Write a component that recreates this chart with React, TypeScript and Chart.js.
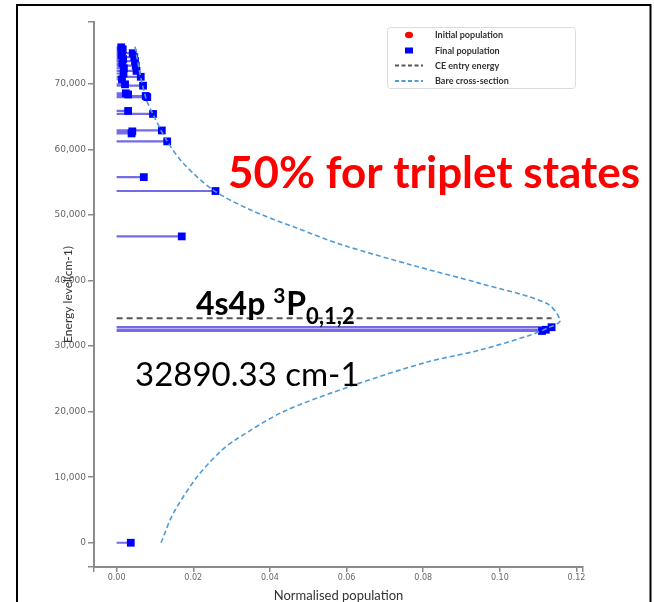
import React, { useEffect, useRef } from "react";
import { Chart, registerables } from "chart.js";

Chart.register(...registerables);

// Final-state energy levels (cm-1) and their normalised populations
const LEVEL_ENERGY = [
  0, 32311, 32501, 32890, 46745, 53672, 55789, 61247, 62459, 62772, 62910,
  65432, 65890, 68000, 68170, 68400, 68580, 69740, 69950, 70700, 71100,
  71600, 72000, 72400, 72800, 73100, 73500, 73800, 74100, 74400, 74700,
  75000, 75300, 75600,
];
const LEVEL_POPULATION = [
  0.0037, 0.111, 0.112, 0.1135, 0.017, 0.0258, 0.0071, 0.0132, 0.0039, 0.0041,
  0.0118, 0.0095, 0.003, 0.008, 0.0076, 0.003, 0.0024, 0.0069, 0.0022, 0.0014,
  0.0063, 0.0018, 0.0052, 0.0019, 0.005, 0.0015, 0.0048, 0.0017, 0.0046,
  0.0013, 0.0042, 0.0014, 0.0016, 0.0012,
];

// Initial population lies outside the plotted window
const INITIAL_ENERGY: number[] = [];
const INITIAL_POPULATION: number[] = [];

// Charge-exchange entry energy
const CE_ENTRY_ENERGY = 34240;
const CE_LINE_POPULATION = [0, 0.1135];

// Bare cross-section profile
const CROSS_ENERGY = [
  0, 4490, 9980, 13890, 15700, 20000, 24070, 27570, 29400, 31690, 32760,
  33880, 36530, 39580, 42380, 45430, 48020, 50770, 53820, 57900, 61450,
  65370, 67560, 71000, 75700,
];
const CROSS_POPULATION = [
  0.0116, 0.0148, 0.0209, 0.027, 0.031, 0.0435, 0.062, 0.081, 0.0948, 0.108,
  0.1125, 0.1157, 0.1122, 0.0948, 0.077, 0.059, 0.047, 0.035, 0.0252, 0.0174,
  0.013, 0.0095, 0.0078, 0.0063, 0.0048,
];

const X_TICKS = [0, 0.02, 0.04, 0.06, 0.08, 0.1, 0.12];
const Y_TICKS = [0, 10000, 20000, 30000, 40000, 50000, 60000, 70000];
const X_RANGE = [-0.0059, 0.1217];
const Y_RANGE = [-3700, 79460];

const LEGEND_LABELS = [
  "Initial population",
  "Final population",
  "CE entry energy",
  "Bare cross-section",
];

const AXIS_GREY = "#8a8a8a";

function stemPoints() {
  const pts: { x: number | null; y: number | null }[] = [];
  LEVEL_ENERGY.forEach((e, i) => {
    pts.push({ x: 0, y: e });
    pts.push({ x: LEVEL_POPULATION[i], y: e });
    pts.push({ x: null, y: null });
  });
  return pts;
}

const overlayPlugin = {
  id: "overlay",
  afterDraw(chart: any) {
    const { ctx, chartArea } = chart;
    ctx.save();

    // axis titles
    ctx.fillStyle = "#333";
    ctx.textAlign = "center";
    ctx.textBaseline = "middle";
    ctx.font = "13px Lato";
    ctx.fillText("Normalised population", (chartArea.left + chartArea.right) / 2, 596);
    ctx.save();
    ctx.translate(chartArea.left - 26, (chartArea.top + chartArea.bottom) / 2);
    ctx.rotate(-Math.PI / 2);
    ctx.font = "12px Lato";
    ctx.fillText("Energy level(cm-1)", 0, 0);
    ctx.restore();

    // legend
    const lx = 387, ly = 27, lw = 188, lh = 61;
    ctx.fillStyle = "#fff";
    ctx.strokeStyle = "#dcdcdc";
    ctx.lineWidth = 1;
    ctx.beginPath();
    ctx.roundRect(lx + 0.5, ly + 0.5, lw, lh, 3);
    ctx.fill();
    ctx.stroke();
    const rowY = [35, 50.5, 65.5, 81];
    LEGEND_LABELS.forEach((label, i) => {
      const ds = chart.data.datasets.find((d: any) => d.label === label);
      const cy = rowY[i];
      const cx = 409;
      ctx.save();
      if (ds.showLine) {
        ctx.strokeStyle = ds.borderColor;
        ctx.lineWidth = 2;
        ctx.setLineDash([4, 2.5]);
        ctx.beginPath();
        ctx.moveTo(395, cy);
        ctx.lineTo(423, cy);
        ctx.stroke();
      } else {
        ctx.fillStyle = ds.backgroundColor;
        ctx.beginPath();
        if (ds.pointStyle === "rect") {
          ctx.rect(cx - 4, cy - 3, 8, 6);
        } else {
          ctx.ellipse(cx, cy, 4, 3.3, 0, 0, Math.PI * 2);
        }
        ctx.fill();
      }
      ctx.restore();
      ctx.fillStyle = "#333";
      ctx.textAlign = "left";
      ctx.textBaseline = "middle";
      ctx.font = "bold 9px Lato";
      ctx.fillText(label, 435, cy + 0.5);
    });

    // annotations
    ctx.textAlign = "left";
    ctx.textBaseline = "alphabetic";
    ctx.fillStyle = "#ff0000";
    ctx.font = "bold 44px Lato";
    ctx.fillText("50% for triplet states", 228, 188, 412);

    ctx.fillStyle = "#000";
    let tx = 196;
    const base = 315;
    ctx.font = "bold 32px Lato";
    ctx.fillText("4s4p", tx, base);
    tx += ctx.measureText("4s4p ").width;
    ctx.font = "bold 21px Lato";
    ctx.fillText("3", tx, base - 12);
    tx += ctx.measureText("3").width + 1;
    ctx.font = "bold 32px Lato";
    ctx.fillText("P", tx, base);
    tx += ctx.measureText("P").width;
    ctx.font = "bold 22px Lato";
    ctx.fillText("0,1,2", tx, base + 9);

    ctx.font = "33px Lato";
    ctx.fillText("32890.33 cm-1", 135, 386, 228);

    // frame
    ctx.strokeStyle = "#000";
    ctx.lineWidth = 2;
    ctx.beginPath();
    ctx.moveTo(17, 620);
    ctx.lineTo(17, 5);
    ctx.lineTo(650.5, 5);
    ctx.lineTo(650.5, 620);
    ctx.stroke();
    ctx.restore();
  },
};

export default function App() {
  const canvasRef = useRef<HTMLCanvasElement | null>(null);

  useEffect(() => {
    if (!canvasRef.current) return;
    const chart = new Chart(canvasRef.current, {
      type: "scatter",
      data: {
        datasets: [
          {
            label: "Bare cross-section",
            data: CROSS_ENERGY.map((e, i) => ({ x: CROSS_POPULATION[i], y: e })),
            showLine: true,
            borderColor: "#4f9bd6",
            backgroundColor: "#4f9bd6",
            borderWidth: 1.6,
            borderDash: [5, 3],
            pointRadius: 0,
            tension: 0.3,
            order: 1,
          },
          {
            label: "CE entry energy",
            data: CE_LINE_POPULATION.map((p) => ({ x: p, y: CE_ENTRY_ENERGY })),
            showLine: true,
            borderColor: "#555555",
            backgroundColor: "#555555",
            borderWidth: 2,
            borderDash: [6, 4],
            pointRadius: 0,
            order: 2,
          },
          {
            label: "Initial population",
            data: INITIAL_ENERGY.map((e, i) => ({ x: INITIAL_POPULATION[i], y: e })),
            backgroundColor: "#ff0000",
            borderColor: "#ff0000",
            pointStyle: "circle",
            pointRadius: 4,
            order: 3,
          },
          {
            label: "Final population",
            data: LEVEL_ENERGY.map((e, i) => ({ x: LEVEL_POPULATION[i], y: e })),
            backgroundColor: "#0000ff",
            borderColor: "#0000ff",
            borderWidth: 0,
            pointStyle: "rect",
            pointRadius: 5.5,
            order: 4,
          },
          {
            label: "levels",
            data: stemPoints() as any,
            showLine: true,
            spanGaps: false,
            borderColor: "rgba(80, 70, 225, 0.8)",
            backgroundColor: "rgba(80, 70, 225, 0.8)",
            borderWidth: 2.2,
            pointRadius: 0,
            order: 5,
          },
        ],
      },
      options: {
        animation: false,
        responsive: false,
        devicePixelRatio: 1,
        layout: { padding: { left: 17, top: 22, right: 71, bottom: 0 } },
        plugins: {
          legend: { display: false },
          tooltip: { enabled: false },
        },
        scales: {
          x: {
            type: "linear",
            min: X_RANGE[0],
            max: X_RANGE[1],
            afterBuildTicks: (s: any) => {
              s.ticks = [X_RANGE[0], ...X_TICKS, X_RANGE[1]].map((v) => ({ value: v }));
            },
            afterFit: (s: any) => {
              s.height = 35;
            },
            ticks: {
              autoSkip: false,
              maxRotation: 0,
              padding: 1,
              color: "#666",
              font: { family: "DejaVu Sans", size: 8 },
              callback: (v: any, i: number, arr: any[]) =>
                i === 0 || i === arr.length - 1 ? "" : Number(v).toFixed(2),
            },
            grid: {
              drawOnChartArea: false,
              drawTicks: true,
              tickLength: 5,
              color: AXIS_GREY,
              lineWidth: 1.5,
            },
            border: { display: true, color: AXIS_GREY, width: 2 },
          },
          y: {
            type: "linear",
            min: Y_RANGE[0],
            max: Y_RANGE[1],
            afterBuildTicks: (s: any) => {
              s.ticks = [Y_RANGE[0], ...Y_TICKS, Y_RANGE[1]].map((v) => ({ value: v }));
            },
            afterFit: (s: any) => {
              s.width = 77;
            },
            ticks: {
              autoSkip: false,
              padding: 2,
              color: "#666",
              font: { family: "DejaVu Sans", size: 9 },
              callback: (v: any, i: number, arr: any[]) =>
                i === 0 || i === arr.length - 1
                  ? ""
                  : Number(v).toLocaleString("en-US"),
            },
            grid: {
              drawOnChartArea: false,
              drawTicks: true,
              tickLength: 6,
              color: AXIS_GREY,
              lineWidth: 1.5,
            },
            border: { display: true, color: AXIS_GREY, width: 2 },
          },
        },
      },
      plugins: [overlayPlugin],
    });
    return () => chart.destroy();
  }, []);

  return (
    <div style={{ position: "absolute", left: 0, top: 0, width: 654, height: 602, background: "#fff" }}>
      <canvas ref={canvasRef} width={654} height={602} />
    </div>
  );
}
